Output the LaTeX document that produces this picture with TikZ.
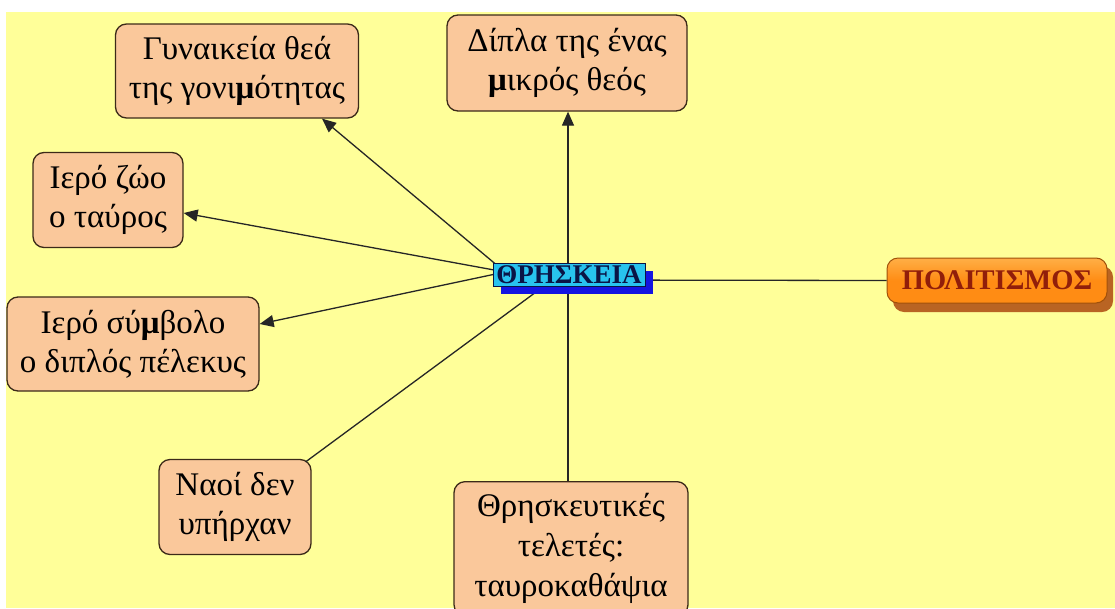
\documentclass[tikz,border=0pt]{standalone}
\usepackage{fontspec}
\setmainfont{Liberation Serif}
\usetikzlibrary{arrows.meta}
\definecolor{bgyellow}{RGB}{255,255,153}
\definecolor{peach}{RGB}{250,200,155}
\definecolor{boxline}{RGB}{60,42,25}
\definecolor{hubfill}{RGB}{40,195,238}
\definecolor{hubtext}{RGB}{10,20,70}
\definecolor{hubshadow}{RGB}{20,20,225}
\definecolor{orangefill}{RGB}{255,140,20}
\definecolor{orangetop}{RGB}{255,175,70}
\definecolor{orangeline}{RGB}{160,80,10}
\definecolor{orangeshadow}{RGB}{185,100,35}
\definecolor{orangetext}{RGB}{145,30,10}
\tikzset{
  topic/.style={draw=boxline, line width=1.3pt, fill=peach, rounded corners=11pt,
    align=center, font=\fontsize{33}{39}\selectfont, inner sep=0pt},
  link/.style={draw=black!85, line width=1.3pt},
  arrowlink/.style={link, -{Triangle[length=14pt,width=12pt]}},
}
\newcommand{\bmu}{\textbf{μ}}
\begin{document}
\begin{tikzpicture}[x=1pt,y=-1pt]
\useasboundingbox (0,0) rectangle (1115,608);
\fill[bgyellow] (6,12) rectangle (1115,608);

% surrounding topic boxes
\node[topic, minimum width=243pt, minimum height=94pt] (gyn) at (237,71)
  {Γυναικεία θεά\\της γονι\bmu ότητας};
\node[topic, minimum width=240pt, minimum height=96pt] (dipla) at (567,63)
  {Δίπλα της ένας\\\bmu ικρός θεός};
\node[topic, minimum width=150pt, minimum height=95pt] (zoo) at (108,200)
  {Ιερό ζώο\\ο ταύρος};
\node[topic, minimum width=252pt, minimum height=94pt] (symb) at (133,344)
  {Ιερό σύ\bmu βολο\\ο διπλός πέλεκυς};
\node[topic, minimum width=152pt, minimum height=95pt] (naoi) at (235,507)
  {Ναοί δεν\\υπήρχαν};
\node[topic, minimum width=234pt, minimum height=134pt, anchor=north,
  font=\fontsize{33}{40}\selectfont] (thrk) at (571,481)
  {Θρησκευτικές\\τελετές:\\ταυροκαθάψια};

% main topic box on the right
\fill[orangeshadow, rounded corners=11pt] (893,266) rectangle (1113,312);
\node[draw=orangeline, line width=1pt, top color=orangetop, bottom color=orangefill,
  middle color=orangefill, rounded corners=11pt, minimum width=220pt, minimum height=45pt,
  font=\fontsize{28.5}{30}\selectfont\bfseries, text=orangetext, inner sep=0pt]
  (pol) at (997,280.5) {ΠΟΛΙΤΙΣΜΟΣ};

% connector start points behind the central label
\coordinate (hubL) at (505,272);
\coordinate (hubN) at (568,275);
\coordinate (hubS) at (568,280);
\coordinate (hubD) at (555,278);

\draw[arrowlink] (hubL) -- ([xshift=85pt]gyn.south);
\draw[arrowlink] (hubN) -- (hubN |- dipla.south);
\draw[arrowlink] (hubL) -- ([yshift=-13pt]zoo.east);
\draw[arrowlink] (hubL) -- ([yshift=20pt]symb.east);
\draw[link] (hubD) -- ([xshift=-6pt,yshift=-3pt]naoi.north east);
\draw[link] (hubS) -- (hubS |- thrk.north);
\draw[link] (hubS) -- (pol.west);

% central label with its offset shadow
\fill[hubshadow] (501,271) rectangle (653,294);
\node[draw=hubtext, line width=0.8pt, fill=hubfill, minimum width=152pt, minimum height=23pt,
  inner sep=0pt, font=\fontsize{27}{27}\selectfont\bfseries, text=hubtext]
  (thr) at (569,274.5) {ΘΡΗΣΚΕΙΑ};
\end{tikzpicture}
\end{document}
